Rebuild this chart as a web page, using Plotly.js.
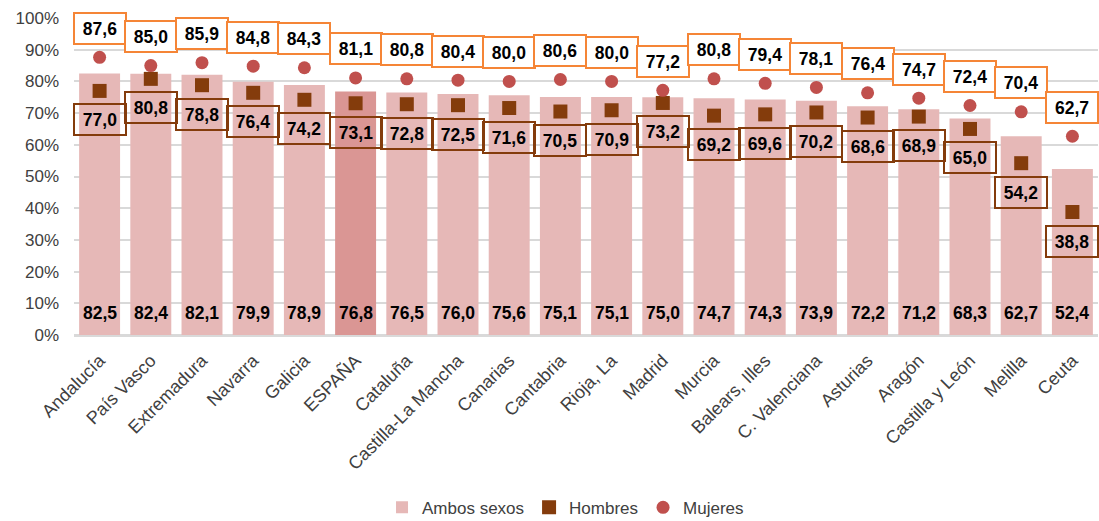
<!DOCTYPE html>
<html>
<head>
<meta charset="utf-8">
<script src="https://cdn.plot.ly/plotly-3.0.1.min.js"></script>
<style>html,body{margin:0;padding:0;background:#fff;}#chart{width:1099px;height:521px;}</style>
</head>
<body>
<div id="chart"></div>
<script>
const categories = ["Andalucía","País Vasco","Extremadura","Navarra","Galicia","ESPAÑA","Cataluña","Castilla-La Mancha","Canarias","Cantabria","Rioja, La","Madrid","Murcia","Balears, Illes","C. Valenciana","Asturias","Aragón","Castilla y León","Melilla","Ceuta"];
const ambos = [82.5,82.4,82.1,79.9,78.9,76.8,76.5,76.0,75.6,75.1,75.1,75.0,74.7,74.3,73.9,72.2,71.2,68.3,62.7,52.4];
const hombres = [77.0,80.8,78.8,76.4,74.2,73.1,72.8,72.5,71.6,70.5,70.9,73.2,69.2,69.6,70.2,68.6,68.9,65.0,54.2,38.8];
const mujeres = [87.6,85.0,85.9,84.8,84.3,81.1,80.8,80.4,80.0,80.6,80.0,77.2,80.8,79.4,78.1,76.4,74.7,72.4,70.4,62.7];
const yTicks = [0,10,20,30,40,50,60,70,80,90,100];

const fmt = v => v.toFixed(1).replace('.', ',');
const barColors = categories.map(c => c === "ESPAÑA" ? "#DA9694" : "#E6B8B7");

const traces = [
  {type:'bar', name:'Ambos sexos', x:categories, y:ambos, marker:{color:barColors}, hoverinfo:'skip'},
  {type:'scatter', mode:'markers', name:'Hombres', x:categories, y:hombres, marker:{symbol:'square', size:14, color:'#843C0C'}},
  {type:'scatter', mode:'markers', name:'Mujeres', x:categories, y:mujeres, marker:{symbol:'circle', size:13, color:'#C0504D'}}
];

const annotations = [];
const labelFont = {family:'Liberation Sans, Arial, sans-serif', size:17.5, color:'#000000'};
categories.forEach((c, i) => {
  annotations.push({x:c, y:0, xref:'x', yref:'y', text:'<b>'+fmt(ambos[i])+'</b>', showarrow:false, yanchor:'middle', yshift:22, font:labelFont});
  annotations.push({x:c, y:hombres[i], xref:'x', yref:'y', text:'<b>'+fmt(hombres[i])+'</b>', showarrow:false, yanchor:'middle', yshift:-29,
    bgcolor:'rgba(255,255,255,0)', bordercolor:'#843C0C', borderwidth:2, borderpad:1, width:48, height:27, font:labelFont});
  annotations.push({x:c, y:mujeres[i], xref:'x', yref:'y', text:'<b>'+fmt(mujeres[i])+'</b>', showarrow:false, yanchor:'middle', yshift:29,
    bgcolor:'#FFFFFF', bordercolor:'#F58536', borderwidth:2, borderpad:1, width:48, height:27, font:labelFont});
});

const layout = {
  width:1099, height:521,
  margin:{l:74, r:1, t:18, b:186, autoexpand:false},
  paper_bgcolor:'#FFFFFF', plot_bgcolor:'#FFFFFF',
  bargap:0.2,
  font:{family:'Liberation Sans, Arial, sans-serif', size:17, color:'#404040'},
  xaxis:{type:'category', range:[-0.5, categories.length-0.5], tickangle:-45, tickfont:{size:18, color:'#404040'}, ticklabelstandoff:6, showgrid:false, showline:true, linecolor:'#D9D9D9', linewidth:2, ticks:'', automargin:false},
  yaxis:{range:[0,100], tickvals:yTicks, ticktext:yTicks.map(v=>v+'%'), showgrid:true, gridcolor:'#D9D9D9', gridwidth:2, zeroline:true, zerolinecolor:'#D9D9D9', zerolinewidth:2, tickfont:{size:17, color:'#404040'}, ticklabelstandoff:14, fixedrange:true, automargin:false},
  showlegend:true,
  legend:{orientation:'h', x:0.48, xanchor:'center', y:-0.545, yanchor:'middle', font:{size:17, color:'#404040'}, itemwidth:30, tracegroupgap:0},
  annotations:annotations
};

Plotly.newPlot('chart', traces, layout, {displayModeBar:false, staticPlot:true});
</script>
</body>
</html>
